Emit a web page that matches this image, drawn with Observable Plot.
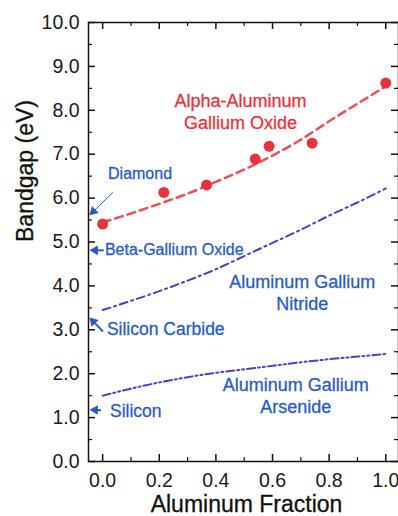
<!DOCTYPE html>
<html><head><meta charset="utf-8">
<script src="https://cdn.jsdelivr.net/npm/d3@7"></script>
<script src="https://cdn.jsdelivr.net/npm/@observablehq/plot@0.6"></script>
<style>body{margin:0;background:#fff}</style>
</head><body><div id="chart"></div>
<script>
// measured Alpha-(AlGa)2O3 points
const alphaX = [0.0, 0.216, 0.367, 0.539, 0.588, 0.74, 1.0];
const alphaY = [5.41, 6.13, 6.30, 6.89, 7.18, 7.25, 8.62];
// fitted / literature curves
const fitX = [0.0, 0.1, 0.2, 0.3, 0.4, 0.5, 0.6, 0.7, 0.8, 0.9, 1.0];
const alphaFit = [5.45, 5.65, 5.87, 6.10, 6.37, 6.65, 6.97, 7.33, 7.75, 8.15, 8.55];
const alganFit = [3.45, 3.66, 3.88, 4.12, 4.38, 4.68, 4.98, 5.28, 5.60, 5.90, 6.22];
const algaasFit = [1.50, 1.66, 1.80, 1.92, 2.02, 2.10, 2.18, 2.26, 2.33, 2.39, 2.45];
// axes
const yTicks = [0, 1, 2, 3, 4, 5, 6, 7, 8, 9, 10];
const yMinor = [0.5, 1.5, 2.5, 3.5, 4.5, 5.5, 6.5, 7.5, 8.5, 9.5];
const xTicks = [0, 0.2, 0.4, 0.6, 0.8, 1.0];
const xMinor = [0.1, 0.3, 0.5, 0.7, 0.9];
// reference materials
const materials = ["Diamond", "Beta-Gallium Oxide", "Silicon Carbide", "Silicon"];
const matLabelX = [0.019, 0.008, 0.015, 0.026];
const matLabelY = [6.56, 4.81, 3.00, 1.15];
const matSize = [16, 16, 17.5, 17.5];
const arrowX1 = [0.036, 0.004, 0.001, -0.006];
const arrowY1 = [6.13, 4.81, 2.96, 1.17];
const arrowX2 = [-0.048, -0.048, -0.048, -0.048];
const arrowY2 = [5.60, 4.81, 3.29, 1.18];
const arrowWidth = [1, 2, 2, 2];
// series labels
const seriesLabels = ["Alpha-Aluminum\nGallium Oxide", "Aluminum Gallium\nNitride", "Aluminum Gallium\nArsenide"];
const seriesLabelX = [0.487, 0.705, 0.682];
const seriesLabelY = [7.98, 3.87, 1.51];
const seriesColor = ["#e8323c", "#2a5cc0", "#2a5cc0"];

const W = 398, H = 516, mL = 88, mR = 0, mT = 22, mB = 55;
const pw = W - mL - mR, ph = H - mT - mB;
const xDomain = [-0.05, 1.045], yDomain = [0, 10];
const blueLine = "#4a40c4";
const blueText = "#2a5cc0";

// scales used to orient the filled arrowheads
const sx = Plot.scale({x: {domain: xDomain, range: [mL, W - mR]}});
const sy = Plot.scale({y: {domain: yDomain, range: [H - mB, mT]}});

const points = alphaX.map((x, i) => ({x, y: alphaY[i]}));
const fitA = fitX.map((x, i) => ({x, y: alphaFit[i]}));
const fitN = fitX.map((x, i) => ({x, y: alganFit[i]}));
const fitAs = fitX.map((x, i) => ({x, y: algaasFit[i]}));
const mats = materials.map((t, i) => {
  const px1 = sx.apply(arrowX1[i]), py1 = sy.apply(arrowY1[i]);
  const px2 = sx.apply(arrowX2[i]), py2 = sy.apply(arrowY2[i]);
  const vx = px2 - px1, vy = py2 - py1, len = Math.hypot(vx, vy);
  const back = 6;
  const hx = px2 - vx / len * back, hy = py2 - vy / len * back;
  return {t, x: matLabelX[i], y: matLabelY[i], s: matSize[i],
    x1: arrowX1[i], y1: arrowY1[i], x2: arrowX2[i], y2: arrowY2[i], w: arrowWidth[i],
    hx: sx.invert(hx), hy: sy.invert(hy), rot: Math.atan2(vx, -vy) * 180 / Math.PI};
});
const sLabels = seriesLabels.map((t, i) => ({t, x: seriesLabelX[i], y: seriesLabelY[i], c: seriesColor[i]}));

const chart = Plot.plot({
  width: W, height: H,
  marginLeft: mL, marginRight: mR, marginTop: mT, marginBottom: mB,
  style: {fontFamily: "'Liberation Sans', Arial, sans-serif", background: "#fff", color: "#1a1a1a"},
  x: {domain: xDomain, label: null},
  y: {domain: yDomain, label: null},
  marks: [
    Plot.axisY(yTicks, {tickSize: 0, tickPadding: 9, tickFormat: d => d.toFixed(1), fontSize: 19.5, label: null, stroke: "#222", strokeWidth: 0.3}),
    Plot.axisX(xTicks, {tickSize: 0, tickPadding: 12, tickFormat: d => d.toFixed(1), fontSize: 19.5, label: null, stroke: "#222", strokeWidth: 0.3}),
    // inward ticks
    Plot.tickY(yTicks, {y: d => d, insetRight: pw - 7, stroke: "#111", strokeWidth: 1.5}),
    Plot.tickY(yMinor, {y: d => d, insetRight: pw - 4, stroke: "#111", strokeWidth: 1.2}),
    Plot.tickY(yTicks, {y: d => d, insetLeft: pw - 7, stroke: "#111", strokeWidth: 1.5}),
    Plot.tickY(yMinor, {y: d => d, insetLeft: pw - 4, stroke: "#111", strokeWidth: 1.2}),
    Plot.tickX(xTicks, {x: d => d, insetTop: ph - 7, stroke: "#111", strokeWidth: 1.5}),
    Plot.tickX(xMinor, {x: d => d, insetTop: ph - 4, stroke: "#111", strokeWidth: 1.2}),
    Plot.tickX(xTicks, {x: d => d, insetBottom: ph - 7, stroke: "#111", strokeWidth: 1.5}),
    Plot.tickX(xMinor, {x: d => d, insetBottom: ph - 4, stroke: "#111", strokeWidth: 1.2}),
    Plot.frame({stroke: "#111", strokeWidth: 1.5}),
    // curves
    Plot.line(fitA, {x: "x", y: "y", curve: "natural", stroke: "#e8505a", strokeWidth: 2.5, strokeDasharray: "8,5"}),
    Plot.line(fitN, {x: "x", y: "y", curve: "natural", stroke: blueLine, strokeWidth: 2, strokeDasharray: "8,4,2,4"}),
    Plot.line(fitAs, {x: "x", y: "y", curve: "natural", stroke: blueLine, strokeWidth: 2, strokeDasharray: "8,3,2,3,2,3"}),
    Plot.dot(points, {x: "x", y: "y", r: 5.5, fill: "#e8323c", stroke: "none"}),
    // material arrows
    Plot.link(mats, {x1: "x1", y1: "y1", x2: "hx", y2: "hy", stroke: blueText, strokeWidth: "w"}),
    Plot.dot(mats, {x: "hx", y: "hy", symbol: "triangle2", r: 4.6, rotate: "rot", fill: blueText, stroke: "none"}),
    Plot.text(mats, {x: "x", y: "y", text: "t", fontSize: "s", textAnchor: "start", lineAnchor: "middle", fill: blueText, stroke: blueText, strokeWidth: 0.3}),
    Plot.text(sLabels, {x: "x", y: "y", text: "t", fontSize: 18, lineHeight: 1.23, textAnchor: "middle", lineAnchor: "middle", fill: "c", stroke: "c", strokeWidth: 0.3}),
    // axis titles
    Plot.text(["Aluminum Fraction"], {frameAnchor: "bottom", dx: 3, dy: 43.5, fontSize: 23, lineAnchor: "middle", fill: "#111", stroke: "#111", strokeWidth: 0.3}),
    Plot.text(["Bandgap (eV)"], {frameAnchor: "left", dx: -63, rotate: -90, fontSize: 23, lineAnchor: "middle", fill: "#111", stroke: "#111", strokeWidth: 0.3})
  ]
});
document.getElementById("chart").appendChild(chart);
</script>
</body></html>
